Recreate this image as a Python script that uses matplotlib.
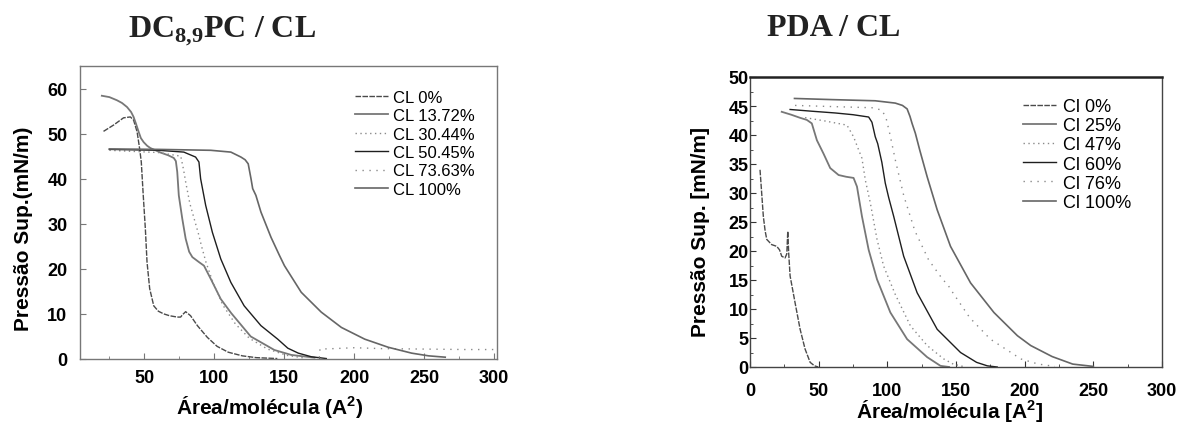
import matplotlib
matplotlib.use("Agg")
import matplotlib.pyplot as plt
from matplotlib.ticker import AutoMinorLocator

plt.rcParams['font.family'] = ['Liberation Sans', 'DejaVu Sans']

# ---- DC8,9PC / CL isotherms (area in A^2, pressure in mN/m) ----
dc_cl0_x = [20.8, 28, 35.1, 40, 42.3, 44.8, 46.6, 47.8, 49.2, 50.7, 51.9, 53.8, 56.7, 60, 63.9, 68,
            73.5, 75.9, 77.5, 79.5, 83, 87.9, 95, 102, 110, 120, 130, 145]
dc_cl0_y = [50.5, 51.9, 53.5, 53.7, 53.0, 50.4, 46.7, 43.7, 36.3, 28.9, 21.5, 15.6, 11.8, 10.6, 10.0, 9.6,
            9.3, 9.3, 9.9, 10.5, 9.6, 7.4, 4.8, 2.8, 1.5, 0.7, 0.3, 0.1]

dc_cl13_x = [19.6, 25, 30.4, 34, 37.6, 40.5, 42.3, 44, 45.9, 47.5, 49.5, 52, 54.3, 61.5, 67, 71, 72.5,
             73.5, 74.6, 77.1, 79.5, 82, 84.3, 89, 92.6, 97.4, 104.6, 112, 126, 142.9, 155, 171.6]
dc_cl13_y = [58.4, 58.1, 57.4, 56.8, 55.9, 54.8, 53.7, 52.2, 50.4, 49.0, 48.1, 47.3, 46.8, 45.8, 45.2, 44.6, 43.9,
             41.5, 36.3, 31.1, 26.7, 23.8, 22.6, 21.5, 20.7, 17.8, 13.3, 10.2, 5.0, 2.0, 0.9, 0.3]

dc_cl30_x = [25, 60, 76, 78, 79.5, 82.5, 86.6, 89, 90.7, 94, 99, 106, 115, 125, 138, 152, 165]
dc_cl30_y = [46.3, 45.8, 45.0, 42.0, 39.3, 34.5, 30.0, 27.4, 25.2, 21.5, 17.0, 12.0, 7.8, 4.6, 2.2, 0.8, 0.2]

dc_cl50_x = [25, 60, 78.2, 86.6, 89, 90.2, 93.8, 98.6, 104.6, 111.8, 121.3, 133.3, 145.3, 152.5, 160, 169.3, 180]
dc_cl50_y = [46.5, 46.3, 45.9, 44.8, 43.7, 40.0, 34.1, 28.1, 22.2, 17.0, 11.8, 7.4, 4.4, 2.4, 1.3, 0.5, 0.1]

dc_cl73_x = [175, 175.5, 185, 200, 220, 250, 280, 300]
dc_cl73_y = [0.3, 2.2, 2.3, 2.5, 2.3, 2.2, 2.1, 2.1]

dc_cl100_x = [25, 60, 97.4, 111.8, 119, 122, 124.2, 126.2, 127.4, 129.7, 133.3, 140.5, 146.5, 150.1, 162.1,
              176.4, 190.8, 207.5, 224.3, 241, 253.1, 265]
dc_cl100_y = [46.6, 46.5, 46.3, 45.9, 44.8, 44.2, 43.3, 40.0, 37.8, 36.3, 32.6, 27.0, 23.0, 20.7, 14.8,
              10.4, 7.0, 4.4, 2.6, 1.3, 0.7, 0.4]

dc_labels = ["CL 0%", "CL 13.72%", "CL 30.44%", "CL 50.45%", "CL 73.63%", "CL 100%"]

# ---- PDA / CL isotherms ----
pda_cl0_x = [7.3, 8.5, 9.7, 11, 12.2, 15.8, 19.5, 21.5, 23.1, 25.5, 26.8, 27.5, 28.2, 29.2, 32.8, 36.5,
             40.1, 43.8, 47, 49.7]
pda_cl0_y = [34.0, 30.0, 26.0, 23.5, 22.0, 21.1, 20.8, 20.2, 19.1, 18.8, 19.5, 23.4, 19.5, 15.7, 11.1, 6.5,
             3.1, 0.8, 0.2, 0.0]

pda_cl25_x = [23.1, 30, 36, 41.4, 45, 48.7, 53.5, 58.4, 64.5, 70, 75.4, 77.9, 81.5, 86.4, 92.5, 102.2,
              114.4, 129, 138.7, 145]
pda_cl25_y = [44.0, 43.5, 43.0, 42.6, 42.0, 39.1, 36.8, 34.3, 33.1, 32.8, 32.6, 31.1, 26.0, 20.2, 15.1, 9.4,
              4.8, 1.7, 0.2, 0.0]

pda_cl47_x = [40.1, 55, 70.6, 75.4, 78.5, 81.5, 84, 87.6, 92.5, 97.3, 105.8, 116.8, 129, 141, 148, 155]
pda_cl47_y = [43.0, 42.4, 41.7, 39.7, 37.8, 36.0, 32.2, 28.3, 22.0, 17.4, 12.5, 7.1, 3.7, 1.4, 0.5, 0.1]

pda_cl60_x = [29.2, 45, 62, 75, 86.4, 88.8, 91.2, 93, 96, 98.5, 101, 104.6, 111.9, 121.7, 136.3, 153.3,
              165, 172.8, 180]
pda_cl60_y = [44.4, 44.1, 43.8, 43.5, 43.1, 42.2, 39.7, 38.5, 35.3, 31.7, 29.2, 26.0, 19.1, 12.8, 6.5, 2.5,
              0.8, 0.2, 0.0]

pda_cl76_x = [32.8, 60, 88.8, 96, 99, 102, 106, 112, 120, 130, 140, 144.5, 148, 160, 175, 192, 197, 210, 222]
pda_cl76_y = [45.1, 44.9, 44.7, 44.3, 43.0, 40.0, 35.5, 29.5, 23.5, 18.5, 15.2, 14.0, 12.7, 8.5, 4.8, 2.2,
              1.4, 0.5, 0.1]

pda_cl100_x = [32.4, 60, 91.2, 105.8, 111, 114.4, 116.5, 118, 120.4, 123.6, 129, 136.3, 146, 160.6, 177.6,
               194.7, 204.4, 220, 235, 250]
pda_cl100_y = [46.3, 46.1, 45.9, 45.5, 45.1, 44.5, 43.2, 42.0, 40.3, 37.4, 32.8, 27.1, 20.8, 14.5, 9.4,
               5.4, 3.7, 1.8, 0.5, 0.1]

pda_labels = ["Cl 0%", "Cl 25%", "Cl 47%", "Cl 60%", "Cl 76%", "Cl 100%"]

dc_xticks = [50, 100, 150, 200, 250, 300]
dc_yticks = [0, 10, 20, 30, 40, 50, 60]
pda_xticks = [0, 50, 100, 150, 200, 250, 300]
pda_yticks = [0, 5, 10, 15, 20, 25, 30, 35, 40, 45, 50]

# line styles shared by both panels (six series each)
styles = [
    dict(color="#4a4a4a", lw=1.0, ls=(0, (4, 1))),
    dict(color="#777777", lw=1.3, ls="-"),
    dict(color="#8a8a8a", lw=1.0, ls=(0, (1, 2.5))),
    dict(color="#1e1e1e", lw=1.0, ls="-"),
    dict(color="#8a8a8a", lw=1.0, ls=(0, (1, 4))),
    dict(color="#666666", lw=1.2, ls="-"),
]

W, H = 1178, 427
fig = plt.figure(figsize=(W / 100, H / 100), dpi=100)
ax1 = fig.add_axes([80 / W, 1 - 360 / H, 417 / W, 293 / H])
ax2 = fig.add_axes([750 / W, 1 - 368 / H, 412 / W, 290 / H])

dc_series = [(dc_cl0_x, dc_cl0_y), (dc_cl13_x, dc_cl13_y), (dc_cl30_x, dc_cl30_y),
             (dc_cl50_x, dc_cl50_y), (dc_cl73_x, dc_cl73_y), (dc_cl100_x, dc_cl100_y)]
pda_series = [(pda_cl0_x, pda_cl0_y), (pda_cl25_x, pda_cl25_y), (pda_cl47_x, pda_cl47_y),
              (pda_cl60_x, pda_cl60_y), (pda_cl76_x, pda_cl76_y), (pda_cl100_x, pda_cl100_y)]

for (x, y), lab, st in zip(dc_series, dc_labels, styles):
    ax1.plot(x, y, label=lab, **st)
for (x, y), lab, st in zip(pda_series, pda_labels, styles):
    ax2.plot(x, y, label=lab, **st)

# left panel
ax1.set_xlim(4, 302)
ax1.set_ylim(0, 65)
ax1.set_xticks(dc_xticks)
ax1.set_xticklabels([str(t) for t in dc_xticks], fontweight="bold")
ax1.set_yticks(dc_yticks)
ax1.set_yticklabels([str(t) for t in dc_yticks], fontweight="bold")
ax1.xaxis.set_minor_locator(AutoMinorLocator(2))
ax1.tick_params(which="both", direction="in", labelsize=13, color="#777777")
ax1.tick_params(which="major", length=4)
ax1.tick_params(which="minor", length=2)
ax1.tick_params(axis="y", pad=9)
ax1.tick_params(axis="x", pad=7)
for s in ax1.spines.values():
    s.set_color("#777777")
    s.set_linewidth(1.0)
ax1.set_xlabel("Área/molécula (A$^{\\mathregular{2}}$)", fontsize=15, fontweight="bold")
ax1.set_ylabel("Pressão Sup.(mN/m)", fontsize=15, fontweight="bold")
ax1.xaxis.set_label_coords((270 - 80) / 417, -(394 - 360) / 293)
ax1.yaxis.set_label_coords(-(80 - 33) / 417, (360 - 229) / 293)
ax1.legend(loc="upper left", bbox_to_anchor=((355 - 80) / 417, (360 - 91) / 293),
           frameon=False, fontsize=12, handlelength=2.0, handletextpad=0.25,
           labelspacing=0.2, borderpad=0, borderaxespad=0)

# right panel
ax2.set_xlim(0, 300)
ax2.set_ylim(0, 50)
ax2.set_xticks(pda_xticks)
ax2.set_xticklabels([str(t) for t in pda_xticks], fontweight="bold")
ax2.set_yticks(pda_yticks)
ax2.set_yticklabels([str(t) for t in pda_yticks], fontweight="bold")
ax2.xaxis.set_minor_locator(AutoMinorLocator(2))
ax2.yaxis.set_minor_locator(AutoMinorLocator(2))
ax2.tick_params(which="both", direction="in", labelsize=13, color="#333333")
ax2.tick_params(which="major", length=4)
ax2.tick_params(which="minor", length=2)
ax2.tick_params(axis="y", pad=1)
ax2.tick_params(axis="x", pad=11)
for s in ax2.spines.values():
    s.set_color("#444444")
    s.set_linewidth(1.0)
ax2.spines["top"].set_linewidth(1.8)
ax2.spines["top"].set_color("#222222")
ax2.set_xlabel("Área/molécula [A$^{\\mathregular{2}}$]", fontsize=15, fontweight="bold")
ax2.set_ylabel("Pressão Sup. [mN/m]", fontsize=15, fontweight="bold")
ax2.xaxis.set_label_coords((950 - 750) / 412, -(398 - 368) / 290)
ax2.yaxis.set_label_coords(-(750 - 710) / 412, (368 - 232) / 290)
ax2.legend(loc="upper left", bbox_to_anchor=((1023 - 750) / 412, (368 - 99) / 290),
           frameon=False, fontsize=13, handlelength=1.85, handletextpad=0.35,
           labelspacing=0.12, borderpad=0, borderaxespad=0)

# panel titles
fig.text(222 / W, 1 - 31 / H, "DC$_{\\mathregular{8{,}9}}$PC / CL", ha="center", va="center",
         family="Liberation Serif", fontweight="bold", fontsize=23, color="#222222")
fig.text(834 / W, 1 - 28 / H, "PDA / CL", ha="center", va="center",
         family="Liberation Serif", fontweight="bold", fontsize=23, color="#222222")

fig.savefig("out.png", dpi=100)
